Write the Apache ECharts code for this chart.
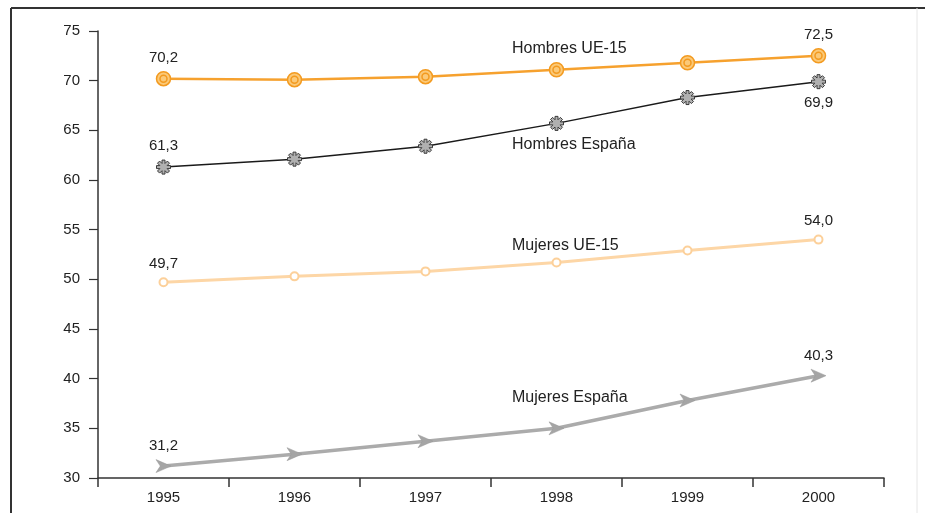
<!DOCTYPE html>
<html>
<head>
<meta charset="utf-8">
<script src="https://cdn.jsdelivr.net/npm/echarts@6/dist/echarts.min.js"></script>
<style>
  html, body { margin: 0; padding: 0; background: #fff; }
  #chart { width: 925px; height: 513px; }
</style>
</head>
<body>
<div id="chart"></div>
<script>
// Tasa de actividad por sexo, España frente a UE-15 (1995-2000)
const years = ['1995', '1996', '1997', '1998', '1999', '2000'];
const hombresUE = [70.2, 70.1, 70.4, 71.1, 71.8, 72.5];
const hombresEsp = [61.3, 62.1, 63.4, 65.7, 68.3, 69.9];
const mujeresUE = [49.7, 50.3, 50.8, 51.7, 52.9, 54.0];
const mujeresEsp = [31.2, 32.4, 33.7, 35.0, 37.8, 40.3];
const yTicks = [30, 35, 40, 45, 50, 55, 60, 65, 70, 75];

const FONT = '"Liberation Sans", Arial, sans-serif';

// Concentric double-ring marker
function ringPath(r1, r2) {
  const c = r => `M ${r} 0 A ${r} ${r} 0 1 1 ${-r} 0 A ${r} ${r} 0 1 1 ${r} 0 Z`;
  return 'path://' + c(r1) + ' ' + c(r2);
}
// Eight-armed asterisk outline
function asteriskPath(arms, L, w) {
  const pts = [];
  const rn = w / Math.sin(Math.PI / arms);
  for (let k = 0; k < arms; k++) {
    const t = k * 2 * Math.PI / arms;
    const cx = L * Math.cos(t), cy = L * Math.sin(t);
    const px = -Math.sin(t) * w, py = Math.cos(t) * w;
    pts.push([cx - px, cy - py], [cx + px, cy + py]);
    const tn = t + Math.PI / arms;
    pts.push([rn * Math.cos(tn), rn * Math.sin(tn)]);
  }
  return 'path://M ' + pts.map(p => p[0].toFixed(2) + ' ' + p[1].toFixed(2)).join(' L ') + ' Z';
}
const arrowPath = 'path://M -7 -6 L 7 0 L -7 6 L -3 0 Z';

const fmt = p => p.value.toFixed(1).replace('.', ',');
function withEndLabels(values, lastPos) {
  return values.map((v, i) => {
    if (i === 0) return { value: v, label: { show: true, position: 'top' } };
    if (i === values.length - 1) return { value: v, label: { show: true, position: lastPos || 'top' } };
    return v;
  });
}
const labelBase = { show: false, formatter: fmt, color: '#222', fontSize: 15, fontFamily: FONT, distance: 6 };

const chart = echarts.init(document.getElementById('chart'));
chart.setOption({
  backgroundColor: '#fff',
  animation: false,
  grid: { left: 98, right: 41, top: 31, bottom: 35 },
  xAxis: {
    type: 'category',
    data: years,
    boundaryGap: true,
    axisLine: { lineStyle: { color: '#333', width: 1.5 } },
    axisTick: { show: true, length: 9, lineStyle: { color: '#333', width: 1.5 } },
    axisLabel: { color: '#222', fontSize: 15, fontFamily: FONT, margin: 12 },
    splitLine: { show: false }
  },
  yAxis: {
    type: 'value',
    min: yTicks[0],
    max: yTicks[yTicks.length - 1],
    interval: 5,
    axisLine: { show: true, lineStyle: { color: '#333', width: 1.5 } },
    axisTick: { show: true, length: 9, lineStyle: { color: '#333', width: 1.2 } },
    axisLabel: { color: '#222', fontSize: 15, fontFamily: FONT, margin: 18 },
    splitLine: { show: false }
  },
  series: [
    {
      name: 'Hombres UE-15',
      type: 'line',
      data: withEndLabels(hombresUE),
      symbol: ringPath(7, 3.5),
      symbolSize: 14,
      lineStyle: { color: '#f6a12e', width: 2.5 },
      itemStyle: { color: '#fbc978', borderColor: '#f39a1f', borderWidth: 1.5 },
      label: labelBase,
      z: 4
    },
    {
      name: 'Hombres España',
      type: 'line',
      data: withEndLabels(hombresEsp, 'bottom'),
      symbol: asteriskPath(8, 7, 1.5),
      symbolSize: 14,
      lineStyle: { color: '#1a1a1a', width: 1.5 },
      itemStyle: { color: '#b0b0b0', borderColor: '#3a3a3a', borderWidth: 1 },
      label: labelBase,
      z: 3
    },
    {
      name: 'Mujeres UE-15',
      type: 'line',
      data: withEndLabels(mujeresUE),
      symbol: 'circle',
      symbolSize: 8,
      lineStyle: { color: '#fdd6a6', width: 3 },
      itemStyle: { color: '#fff', borderColor: '#fcd09a', borderWidth: 2 },
      label: labelBase,
      z: 2
    },
    {
      name: 'Mujeres España',
      type: 'line',
      data: withEndLabels(mujeresEsp),
      symbol: arrowPath,
      symbolSize: [15, 13],
      lineStyle: { color: '#ababab', width: 3.5 },
      itemStyle: { color: '#a5a5a5', borderColor: '#999', borderWidth: 0.5 },
      label: labelBase,
      z: 2
    }
  ],
  graphic: [
    // frame lines
    { type: 'line', shape: { x1: 11, y1: 8, x2: 11, y2: 513 }, style: { stroke: '#333', lineWidth: 2 }, silent: true },
    { type: 'line', shape: { x1: 11, y1: 8, x2: 925, y2: 8 }, style: { stroke: '#333', lineWidth: 2 }, silent: true },
    { type: 'line', shape: { x1: 917, y1: 8, x2: 917, y2: 513 }, style: { stroke: '#e6e6e6', lineWidth: 1 }, silent: true },
    // series names
    { type: 'text', x: 512, y: 49, style: { text: 'Hombres UE-15', font: '16px ' + FONT, fill: '#222', verticalAlign: 'middle' } },
    { type: 'text', x: 512, y: 145, style: { text: 'Hombres España', font: '16px ' + FONT, fill: '#222', verticalAlign: 'middle' } },
    { type: 'text', x: 512, y: 246, style: { text: 'Mujeres UE-15', font: '16px ' + FONT, fill: '#222', verticalAlign: 'middle' } },
    { type: 'text', x: 512, y: 398, style: { text: 'Mujeres España', font: '16px ' + FONT, fill: '#222', verticalAlign: 'middle' } }
  ]
});
</script>
</body>
</html>
